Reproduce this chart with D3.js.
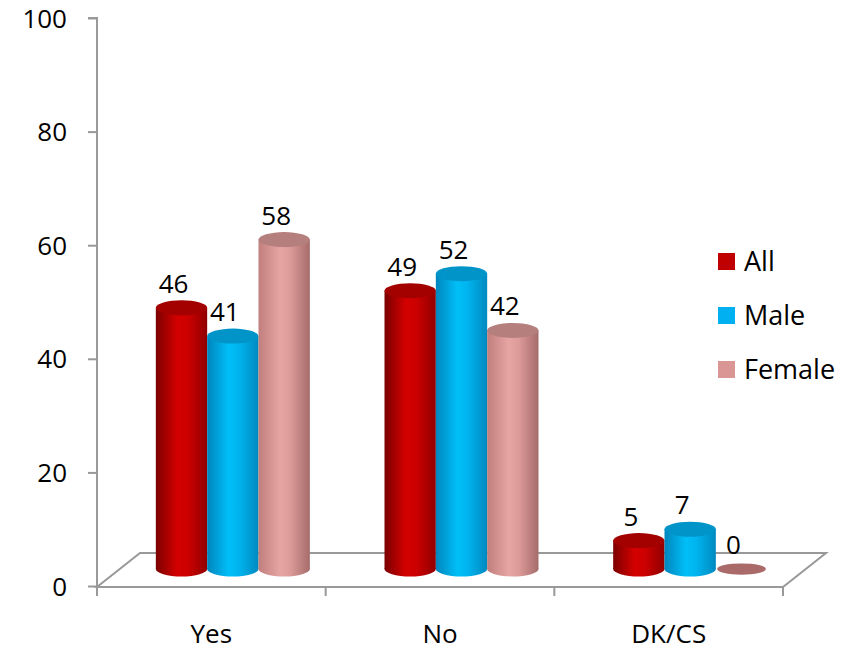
<!DOCTYPE html>
<html>
<head>
<meta charset="utf-8">
<script src="https://cdn.jsdelivr.net/npm/d3@7"></script>
<style>
  html, body { margin: 0; padding: 0; background: #fff; }
  svg { display: block; font-family: "Open Sans", "Liberation Sans", sans-serif; }
</style>
</head>
<body>
<svg id="chart" width="854" height="651"></svg>
<script>
// Survey answers by group
const categories = ["Yes", "No", "DK/CS"];
const seriesNames = ["All", "Male", "Female"];
const allValues = [46, 49, 5];
const maleValues = [41, 52, 7];
const femaleValues = [58, 42, 0];
const yTicks = [0, 20, 40, 60, 80, 100];

const seriesValues = [allValues, maleValues, femaleValues];

// cylinder shading per series: left edge, highlight, right edge, top cap
const shades = [
  { id: "gAll",    stops: ["#7c0000", "#d40000", "#cc0000", "#900000"], top: "#a30000", legend: "#c00000" },
  { id: "gMale",   stops: ["#0085bd", "#00bff8", "#00b4ee", "#0089c0"], top: "#0094c8", legend: "#00b0f0" },
  { id: "gFemale", stops: ["#c07e7c", "#e6a4a3", "#dc9a98", "#a56c6b"], top: "#b57f7e", legend: "#d99694" }
];

const svg = d3.select("#chart");

// 3D layout: floor depth offset
const depthX = 43, depthY = -34;
const frontY = 587;

const x0 = d3.scaleBand().domain(categories).range([97, 783]).paddingInner(0).paddingOuter(0);
const groupWidth = 154;
const x1 = d3.scaleBand().domain(seriesNames).range([0, groupWidth]).padding(0);
const y = d3.scaleLinear().domain([0, 100]).range([586, 18]);

// gradients
const defs = svg.append("defs");
shades.forEach(s => {
  const g = defs.append("linearGradient").attr("id", s.id)
    .attr("x1", "0%").attr("x2", "100%").attr("y1", "0%").attr("y2", "0%");
  [0, 0.42, 0.62, 1].forEach((o, i) => g.append("stop").attr("offset", o).attr("stop-color", s.stops[i]));
});

const axisColor = "#999999";

// floor
const floorPts = [
  [97, frontY], [783, frontY],
  [783 + depthX, frontY + depthY], [97 + depthX, frontY + depthY]
];
svg.append("path")
  .attr("d", d3.line()(floorPts) + "Z")
  .attr("fill", "none").attr("stroke", axisColor).attr("stroke-width", 2).attr("stroke-linejoin", "miter");

// value axis
const yAxis = d3.axisLeft(y).tickValues(yTicks).tickSize(9).tickPadding(0).tickFormat(d3.format("d"));
const yg = svg.append("g").attr("transform", "translate(97,0)").call(yAxis);
yg.select(".domain").attr("stroke", axisColor).attr("stroke-width", 2)
  .attr("d", `M-9,${y(100)}H0V${frontY}`);
yg.selectAll(".tick line").attr("stroke", axisColor).attr("stroke-width", 2);
yg.selectAll(".tick text").attr("x", -30).attr("dy", "0.35em")
  .attr("font-size", 26).attr("fill", "#000").attr("font-family", "'Open Sans', sans-serif");

// category axis ticks and labels
const catTicks = categories.map(c => x0(c)).concat([x0.range()[1]]);
svg.append("g").selectAll("line").data(catTicks).join("line")
  .attr("x1", d => d).attr("x2", d => d)
  .attr("y1", frontY).attr("y2", frontY + 9)
  .attr("stroke", axisColor).attr("stroke-width", 2);
svg.append("g").selectAll("text").data(categories).join("text")
  .attr("x", d => x0(d) + x0.bandwidth() / 2)
  .attr("y", 643)
  .attr("text-anchor", "middle")
  .attr("font-size", 26).attr("fill", "#000")
  .text(d => d);

// cylinders
const rx = x1.bandwidth() / 2;
const ry = 7.5;
const baseY = y(0) + depthY / 2;
const groupShift = (x0.bandwidth() - groupWidth) / 2 + depthX / 2;
const yPx = v => y(v) - y(0); // negative pixel height

const bars = [];
categories.forEach((c, ci) => {
  seriesNames.forEach((s, si) => {
    const v = seriesValues[si][ci];
    const cx = x0(c) + groupShift + x1(s) + rx;
    bars.push({ c, s, si, v, cx, topY: baseY + yPx(v) });
  });
});

const barG = svg.append("g");
bars.forEach(b => {
  const sh = shades[b.si];
  const g = barG.append("g");
  if (b.v > 0) {
    g.append("ellipse").attr("cx", b.cx).attr("cy", baseY).attr("rx", rx).attr("ry", ry)
      .attr("fill", `url(#${sh.id})`);
    g.append("rect").attr("x", b.cx - rx).attr("y", b.topY).attr("width", rx * 2)
      .attr("height", baseY - b.topY).attr("fill", `url(#${sh.id})`);
    g.append("ellipse").attr("cx", b.cx).attr("cy", b.topY).attr("rx", rx).attr("ry", ry)
      .attr("fill", sh.top);
  } else {
    g.append("ellipse").attr("cx", b.cx).attr("cy", b.topY).attr("rx", rx * 0.95).attr("ry", ry * 0.75)
      .attr("fill", "#a96a69");
  }
});

// value labels
svg.append("g").selectAll("text").data(bars).join("text")
  .attr("x", d => d.cx - 8)
  .attr("y", d => d.topY - 15)
  .attr("text-anchor", "middle")
  .attr("font-size", 26).attr("fill", "#000")
  .text(d => d.v);

// legend
const legend = svg.append("g").attr("transform", "translate(718,253)");
seriesNames.forEach((s, i) => {
  const row = legend.append("g").attr("transform", `translate(0,${i * 54})`);
  row.append("rect").attr("width", 17).attr("height", 17).attr("fill", shades[i].legend);
  row.append("text").attr("x", 26).attr("y", 8.5).attr("dy", "0.36em")
    .attr("font-size", 27).attr("fill", "#000").text(s);
});
</script>
</body>
</html>
